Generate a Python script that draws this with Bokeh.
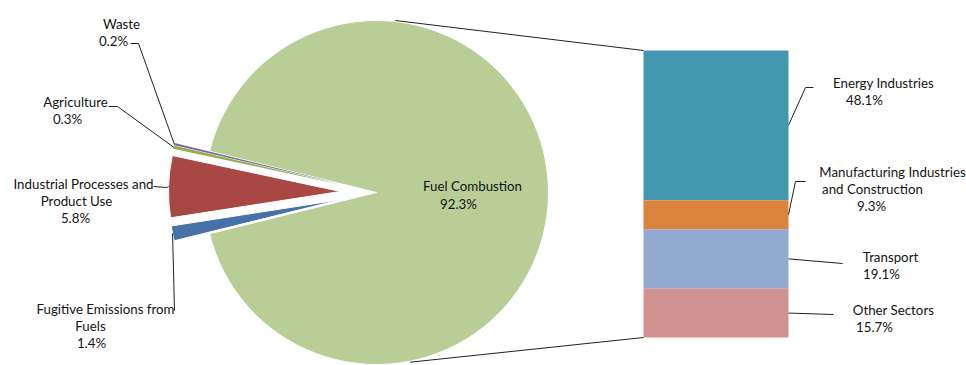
import math
from bokeh.plotting import figure
from bokeh.models import Range1d
from bokeh.embed import file_html
from bokeh.resources import INLINE
from bokeh.core.properties import value

# ---- data -------------------------------------------------------------
pie_names = ["Fuel Combustion", "Waste", "Agriculture",
             "Industrial Processes and Product Use", "Fugitive Emissions from Fuels"]
pie_pcts = [92.3, 0.2, 0.3, 5.8, 1.4]
pie_colors = ["#B9CE96", "#7E63A0", "#8DB04B", "#A84845", "#4672A8"]

bar_names = ["Energy Industries", "Manufacturing Industries and Construction",
             "Transport", "Other Sectors"]
bar_pcts = [48.1, 9.3, 19.1, 15.7]
bar_colors = ["#4298AF", "#DB843D", "#94A9CF", "#D19392"]

# label lines (name part); the percentage line is added from the values
pie_label_lines = {
    "Fuel Combustion": ["Fuel Combustion"],
    "Waste": ["Waste"],
    "Agriculture": ["Agriculture"],
    "Industrial Processes and Product Use": ["Industrial Processes and", "Product Use"],
    "Fugitive Emissions from Fuels": ["Fugitive Emissions from", "Fuels"],
}
bar_label_lines = {
    "Energy Industries": ["Energy Industries"],
    "Manufacturing Industries and Construction": ["Manufacturing Industries", "and Construction"],
    "Transport": ["Transport"],
    "Other Sectors": ["Other Sectors"],
}

# ---- layout -----------------------------------------------------------
W, H = 966, 365
FONT = "Lato"
FS = "13.3px"
TXT = "#141414"
LINE = "#222222"


def Y(ys):
    """screen-style y (from top) -> data y (from bottom)"""
    return H - ys


p = figure(width=W, height=H, x_range=Range1d(0, W), y_range=Range1d(0, H),
           output_backend="svg", toolbar_location=None, min_border=0)
p.axis.visible = False
p.grid.visible = False
p.outline_line_color = None
p.background_fill_color = "white"
p.border_fill_color = "white"

# pie geometry
cx, cy = 376, Y(192)
R = 172
EXPLODE = 36

total = sum(pie_pcts)
big_span = pie_pcts[0] / total * 360.0
start = -big_span / 2.0
angles = []
a = start
for v in pie_pcts:
    span = v / total * 360.0
    angles.append((a, a + span))
    a += span

slice_geom = []
for i, (name, v, col) in enumerate(zip(pie_names, pie_pcts, pie_colors)):
    a0, a1 = angles[i]
    mid = math.radians((a0 + a1) / 2)
    off = 0 if i == 0 else EXPLODE
    x0 = cx + off * math.cos(mid)
    y0 = cy + off * math.sin(mid)
    slice_geom.append((x0, y0, mid))
    thin = v < 1.0
    p.wedge(x=[x0], y=[y0], radius=R, start_angle=math.radians(a0),
            end_angle=math.radians(a1), fill_color=col,
            line_color=None if thin else "white", line_width=1.0)

# bar of the fuel combustion breakdown (own vertical scale)
bar_left, bar_right = 643, 788
bar_top_s, bar_bot_s = 50, 337
bar_sum = sum(bar_pcts)
k = (bar_bot_s - bar_top_s) / bar_sum
bstart = -(H - bar_bot_s) / k
p.extra_y_ranges = {"bar": Range1d(bstart, bstart + H / k)}

bottoms, tops = [], []
acc = 0.0
for v in reversed(bar_pcts):
    bottoms.append(acc)
    acc += v
    tops.append(acc)
bottoms = bottoms[::-1]
tops = tops[::-1]
p.vbar(x=[(bar_left + bar_right) / 2] * len(bar_pcts), width=bar_right - bar_left,
       bottom=bottoms, top=tops, fill_color=bar_colors, line_color=None,
       y_range_name="bar")


def bar_y(v):
    return bar_bot_s - v * k  # screen y


# connectors from pie to bar
top_ang, bot_ang = math.radians(83.7), math.radians(-78.8)
p.line([cx + (R + 1) * math.cos(top_ang), bar_left], [cy + (R + 1) * math.sin(top_ang), Y(bar_y(bar_sum))],
       line_color=LINE, line_width=1)
p.line([cx + (R + 1) * math.cos(bot_ang), bar_left], [cy + (R + 1) * math.sin(bot_ang), Y(bar_y(0))],
       line_color=LINE, line_width=1)


def arc_mid(i):
    x0, y0, mid = slice_geom[i]
    return x0 + R * math.cos(mid), y0 + R * math.sin(mid)


# pie leaders: elbow points (screen coords)
pie_elbows = {
    "Waste": [(130, 43), (138, 43)],
    "Agriculture": [(108, 106), (117, 106)],
    "Industrial Processes and Product Use": [(153, 186), (166, 187)],
    "Fugitive Emissions from Fuels": [(174, 310)],
}
for i, name in enumerate(pie_names):
    if name not in pie_elbows:
        continue
    ex, ey = arc_mid(i)
    pts = pie_elbows[name]
    xs = [q[0] for q in pts] + [ex]
    ys = [Y(q[1]) for q in pts] + [ey]
    p.line(xs, ys, line_color=LINE, line_width=1)

# bar leaders
bar_elbows = {
    "Energy Industries": [(813, 87), (805, 87)],
    "Manufacturing Industries and Construction": [(805, 181), (795, 181)],
    "Transport": [(842, 263)],
    "Other Sectors": [(833, 314)],
}
for i, name in enumerate(bar_names):
    mid_v = (bottoms[i] + tops[i]) / 2
    pts = bar_elbows[name]
    xs = [q[0] for q in pts] + [bar_right]
    ys = [Y(q[1]) for q in pts] + [Y(bar_y(mid_v))]
    p.line(xs, ys, line_color=LINE, line_width=1)

# label line centres (screen coords)
pie_label_pos = {
    "Fuel Combustion": [(472, 185), (458, 203)],
    "Waste": [(121, 23), (113, 40)],
    "Agriculture": [(75, 101), (67, 118)],
    "Industrial Processes and Product Use": [(83, 183), (76, 200), (75, 217)],
    "Fugitive Emissions from Fuels": [(105, 308), (90, 325), (91, 342)],
}
bar_label_pos = {
    "Energy Industries": [(883, 82), (864, 99)],
    "Manufacturing Industries and Construction": [(892, 171), (872, 188), (871, 205)],
    "Transport": [(890, 256), (881, 273)],
    "Other Sectors": [(893, 309), (874, 326)],
}

tx, ty, tt = [], [], []
for name, v in zip(pie_names, pie_pcts):
    lines = pie_label_lines[name] + [f"{v:.1f}%"]
    for (x, y), s in zip(pie_label_pos[name], lines):
        tx.append(x); ty.append(Y(y)); tt.append(s)
for name, v in zip(bar_names, bar_pcts):
    lines = bar_label_lines[name] + [f"{v:.1f}%"]
    for (x, y), s in zip(bar_label_pos[name], lines):
        tx.append(x); ty.append(Y(y)); tt.append(s)

p.text(x=tx, y=ty, text=tt, text_font=value(FONT), text_font_size=FS,
       text_color=TXT, text_align="center", text_baseline="middle")

open("out.html", "w").write(file_html(p, INLINE))
